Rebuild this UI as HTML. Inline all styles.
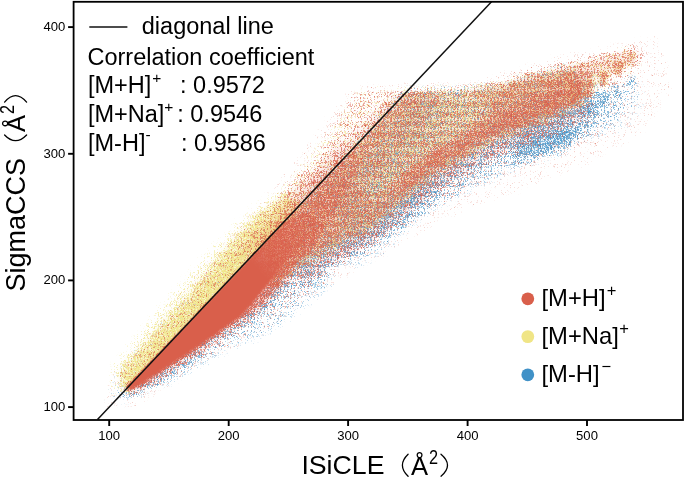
<!DOCTYPE html>
<html><head><meta charset="utf-8"><title>chart</title>
<style>
html,body{margin:0;padding:0;background:#fff}
svg{display:block;opacity:0.999}
text{font-family:"Liberation Sans",sans-serif;fill:#000}
</style></head>
<body>
<svg width="685" height="478" viewBox="0 0 685 478">
<rect width="685" height="478" fill="#fff"/>
<defs>
<clipPath id="cp"><rect x="74.5" y="2.5" width="607.8" height="416.2"/></clipPath>
<filter id="fB" x="74" y="2" width="609" height="418" filterUnits="userSpaceOnUse" color-interpolation-filters="sRGB"><feTurbulence type="fractalNoise" baseFrequency="2.3 1.9" numOctaves="2" seed="3"/><feComponentTransfer result="u"><feFuncR type="table" tableValues="1.0000 1.0000 0.9999 0.9998 0.9996 0.9991 0.9982 0.9966 0.9938 0.9890 0.9814 0.9696 0.9522 0.9276 0.8944 0.8512 0.7977 0.7340 0.6615 0.5825 0.5000 0.4175 0.3385 0.2660 0.2023 0.1488 0.1056 0.0724 0.0478 0.0304 0.0186 0.0110 0.0062 0.0034 0.0018 0.0009 0.0004 0.0002 0.0001 0.0000 0.0000"/><feFuncG type="table" tableValues="1.0000 1.0000 0.9999 0.9998 0.9996 0.9991 0.9982 0.9966 0.9938 0.9890 0.9814 0.9696 0.9522 0.9276 0.8944 0.8512 0.7977 0.7340 0.6615 0.5825 0.5000 0.4175 0.3385 0.2660 0.2023 0.1488 0.1056 0.0724 0.0478 0.0304 0.0186 0.0110 0.0062 0.0034 0.0018 0.0009 0.0004 0.0002 0.0001 0.0000 0.0000"/><feFuncB type="table" tableValues="1.0000 1.0000 0.9999 0.9998 0.9996 0.9991 0.9982 0.9966 0.9938 0.9890 0.9814 0.9696 0.9522 0.9276 0.8944 0.8512 0.7977 0.7340 0.6615 0.5825 0.5000 0.4175 0.3385 0.2660 0.2023 0.1488 0.1056 0.0724 0.0478 0.0304 0.0186 0.0110 0.0062 0.0034 0.0018 0.0009 0.0004 0.0002 0.0001 0.0000 0.0000"/><feFuncA type="linear" slope="0" intercept="1"/></feComponentTransfer><feComponentTransfer in="SourceGraphic" result="mm"><feFuncR type="table" tableValues="0.000 0.034 0.048 0.059 0.069 0.077 0.084 0.092 0.099 0.107 0.114 0.122 0.129 0.137 0.145 0.153 0.161 0.169 0.177 0.185 0.194 0.202 0.210 0.219 0.228 0.235 0.242 0.249 0.256 0.263 0.271 0.278 0.285 0.293 0.301 0.308 0.316 0.324 0.332 0.340 0.348 0.356 0.364 0.373 0.381 0.390 0.399 0.407 0.416 0.425 0.434 0.444 0.453 0.462 0.472 0.482 0.492 0.502 0.512 0.522 0.532 0.543 0.554 0.565 0.576 0.587 0.599 0.610 0.622 0.634 0.647 0.659 0.672 0.685 0.698 0.712 0.726 0.740 0.754 0.769 0.784"/><feFuncG type="table" tableValues="0.000 0.034 0.048 0.059 0.069 0.077 0.084 0.092 0.099 0.107 0.114 0.122 0.129 0.137 0.145 0.153 0.161 0.169 0.177 0.185 0.194 0.202 0.210 0.219 0.228 0.235 0.242 0.249 0.256 0.263 0.271 0.278 0.285 0.293 0.301 0.308 0.316 0.324 0.332 0.340 0.348 0.356 0.364 0.373 0.381 0.390 0.399 0.407 0.416 0.425 0.434 0.444 0.453 0.462 0.472 0.482 0.492 0.502 0.512 0.522 0.532 0.543 0.554 0.565 0.576 0.587 0.599 0.610 0.622 0.634 0.647 0.659 0.672 0.685 0.698 0.712 0.726 0.740 0.754 0.769 0.784"/><feFuncB type="table" tableValues="0.000 0.034 0.048 0.059 0.069 0.077 0.084 0.092 0.099 0.107 0.114 0.122 0.129 0.137 0.145 0.153 0.161 0.169 0.177 0.185 0.194 0.202 0.210 0.219 0.228 0.235 0.242 0.249 0.256 0.263 0.271 0.278 0.285 0.293 0.301 0.308 0.316 0.324 0.332 0.340 0.348 0.356 0.364 0.373 0.381 0.390 0.399 0.407 0.416 0.425 0.434 0.444 0.453 0.462 0.472 0.482 0.492 0.502 0.512 0.522 0.532 0.543 0.554 0.565 0.576 0.587 0.599 0.610 0.622 0.634 0.647 0.659 0.672 0.685 0.698 0.712 0.726 0.740 0.754 0.769 0.784"/></feComponentTransfer><feComposite in="mm" in2="u" operator="arithmetic" k1="0" k2="1" k3="1" k4="-1"/><feColorMatrix type="matrix" values="12 0 0 0 0 0 12 0 0 0 0 0 12 0 0 0 0 0 0 1"/><feColorMatrix type="matrix" values="0 0 0 0 0 0 0 0 0 0 0 0 0 0 0 .3334 .3334 .3334 0 0"/><feComponentTransfer result="t"><feFuncA type="table" tableValues="0 0.6 0.85 1"/></feComponentTransfer><feFlood flood-color="#4091c7"/><feComposite in2="t" operator="in"/><feGaussianBlur stdDeviation="0.65"/></filter>
<filter id="fY" x="74" y="2" width="609" height="418" filterUnits="userSpaceOnUse" color-interpolation-filters="sRGB"><feTurbulence type="fractalNoise" baseFrequency="2.3 1.9" numOctaves="2" seed="11"/><feComponentTransfer result="u"><feFuncR type="table" tableValues="1.0000 1.0000 0.9999 0.9998 0.9996 0.9991 0.9982 0.9966 0.9938 0.9890 0.9814 0.9696 0.9522 0.9276 0.8944 0.8512 0.7977 0.7340 0.6615 0.5825 0.5000 0.4175 0.3385 0.2660 0.2023 0.1488 0.1056 0.0724 0.0478 0.0304 0.0186 0.0110 0.0062 0.0034 0.0018 0.0009 0.0004 0.0002 0.0001 0.0000 0.0000"/><feFuncG type="table" tableValues="1.0000 1.0000 0.9999 0.9998 0.9996 0.9991 0.9982 0.9966 0.9938 0.9890 0.9814 0.9696 0.9522 0.9276 0.8944 0.8512 0.7977 0.7340 0.6615 0.5825 0.5000 0.4175 0.3385 0.2660 0.2023 0.1488 0.1056 0.0724 0.0478 0.0304 0.0186 0.0110 0.0062 0.0034 0.0018 0.0009 0.0004 0.0002 0.0001 0.0000 0.0000"/><feFuncB type="table" tableValues="1.0000 1.0000 0.9999 0.9998 0.9996 0.9991 0.9982 0.9966 0.9938 0.9890 0.9814 0.9696 0.9522 0.9276 0.8944 0.8512 0.7977 0.7340 0.6615 0.5825 0.5000 0.4175 0.3385 0.2660 0.2023 0.1488 0.1056 0.0724 0.0478 0.0304 0.0186 0.0110 0.0062 0.0034 0.0018 0.0009 0.0004 0.0002 0.0001 0.0000 0.0000"/><feFuncA type="linear" slope="0" intercept="1"/></feComponentTransfer><feComponentTransfer in="SourceGraphic" result="mm"><feFuncR type="table" tableValues="0.000 0.034 0.048 0.059 0.069 0.077 0.084 0.092 0.099 0.104 0.109 0.114 0.119 0.124 0.129 0.134 0.139 0.144 0.149 0.154 0.159 0.164 0.170 0.175 0.180 0.186 0.191 0.196 0.202 0.207 0.213 0.219 0.224 0.230 0.235 0.241 0.247 0.253 0.259 0.265 0.271 0.277 0.283 0.289 0.295 0.301 0.307 0.314 0.320 0.326 0.333 0.339 0.346 0.353 0.359 0.366 0.373 0.380 0.387 0.394 0.401 0.408 0.415 0.422 0.430 0.437 0.445 0.452 0.460 0.468 0.476 0.483 0.492 0.500 0.508 0.516 0.525 0.533 0.542 0.550 0.559"/><feFuncG type="table" tableValues="0.000 0.034 0.048 0.059 0.069 0.077 0.084 0.092 0.099 0.104 0.109 0.114 0.119 0.124 0.129 0.134 0.139 0.144 0.149 0.154 0.159 0.164 0.170 0.175 0.180 0.186 0.191 0.196 0.202 0.207 0.213 0.219 0.224 0.230 0.235 0.241 0.247 0.253 0.259 0.265 0.271 0.277 0.283 0.289 0.295 0.301 0.307 0.314 0.320 0.326 0.333 0.339 0.346 0.353 0.359 0.366 0.373 0.380 0.387 0.394 0.401 0.408 0.415 0.422 0.430 0.437 0.445 0.452 0.460 0.468 0.476 0.483 0.492 0.500 0.508 0.516 0.525 0.533 0.542 0.550 0.559"/><feFuncB type="table" tableValues="0.000 0.034 0.048 0.059 0.069 0.077 0.084 0.092 0.099 0.104 0.109 0.114 0.119 0.124 0.129 0.134 0.139 0.144 0.149 0.154 0.159 0.164 0.170 0.175 0.180 0.186 0.191 0.196 0.202 0.207 0.213 0.219 0.224 0.230 0.235 0.241 0.247 0.253 0.259 0.265 0.271 0.277 0.283 0.289 0.295 0.301 0.307 0.314 0.320 0.326 0.333 0.339 0.346 0.353 0.359 0.366 0.373 0.380 0.387 0.394 0.401 0.408 0.415 0.422 0.430 0.437 0.445 0.452 0.460 0.468 0.476 0.483 0.492 0.500 0.508 0.516 0.525 0.533 0.542 0.550 0.559"/></feComponentTransfer><feComposite in="mm" in2="u" operator="arithmetic" k1="0" k2="1" k3="1" k4="-1"/><feColorMatrix type="matrix" values="12 0 0 0 0 0 12 0 0 0 0 0 12 0 0 0 0 0 0 1"/><feColorMatrix type="matrix" values="0 0 0 0 0 0 0 0 0 0 0 0 0 0 0 .3334 .3334 .3334 0 0"/><feComponentTransfer result="t"><feFuncA type="table" tableValues="0 0.6 0.85 1"/></feComponentTransfer><feFlood flood-color="#f0e586"/><feComposite in2="t" operator="in"/><feGaussianBlur stdDeviation="0.65"/></filter>
<filter id="fR" x="74" y="2" width="609" height="418" filterUnits="userSpaceOnUse" color-interpolation-filters="sRGB"><feTurbulence type="fractalNoise" baseFrequency="2.3 1.9" numOctaves="2" seed="23"/><feComponentTransfer result="u"><feFuncR type="table" tableValues="1.0000 1.0000 0.9999 0.9998 0.9996 0.9991 0.9982 0.9966 0.9938 0.9890 0.9814 0.9696 0.9522 0.9276 0.8944 0.8512 0.7977 0.7340 0.6615 0.5825 0.5000 0.4175 0.3385 0.2660 0.2023 0.1488 0.1056 0.0724 0.0478 0.0304 0.0186 0.0110 0.0062 0.0034 0.0018 0.0009 0.0004 0.0002 0.0001 0.0000 0.0000"/><feFuncG type="table" tableValues="1.0000 1.0000 0.9999 0.9998 0.9996 0.9991 0.9982 0.9966 0.9938 0.9890 0.9814 0.9696 0.9522 0.9276 0.8944 0.8512 0.7977 0.7340 0.6615 0.5825 0.5000 0.4175 0.3385 0.2660 0.2023 0.1488 0.1056 0.0724 0.0478 0.0304 0.0186 0.0110 0.0062 0.0034 0.0018 0.0009 0.0004 0.0002 0.0001 0.0000 0.0000"/><feFuncB type="table" tableValues="1.0000 1.0000 0.9999 0.9998 0.9996 0.9991 0.9982 0.9966 0.9938 0.9890 0.9814 0.9696 0.9522 0.9276 0.8944 0.8512 0.7977 0.7340 0.6615 0.5825 0.5000 0.4175 0.3385 0.2660 0.2023 0.1488 0.1056 0.0724 0.0478 0.0304 0.0186 0.0110 0.0062 0.0034 0.0018 0.0009 0.0004 0.0002 0.0001 0.0000 0.0000"/><feFuncA type="linear" slope="0" intercept="1"/></feComponentTransfer><feComponentTransfer in="SourceGraphic" result="mm"><feFuncR type="table" tableValues="0.000 0.034 0.048 0.059 0.069 0.077 0.084 0.092 0.099 0.104 0.109 0.114 0.119 0.124 0.129 0.134 0.139 0.144 0.149 0.154 0.159 0.164 0.170 0.175 0.180 0.186 0.191 0.196 0.202 0.207 0.213 0.219 0.224 0.230 0.235 0.241 0.247 0.253 0.259 0.265 0.271 0.277 0.283 0.289 0.295 0.301 0.307 0.314 0.320 0.326 0.333 0.339 0.346 0.353 0.359 0.366 0.373 0.380 0.387 0.394 0.401 0.408 0.415 0.422 0.430 0.437 0.445 0.452 0.460 0.468 0.476 0.483 0.492 0.500 0.508 0.516 0.525 0.533 0.542 0.550 0.559"/><feFuncG type="table" tableValues="0.000 0.034 0.048 0.059 0.069 0.077 0.084 0.092 0.099 0.104 0.109 0.114 0.119 0.124 0.129 0.134 0.139 0.144 0.149 0.154 0.159 0.164 0.170 0.175 0.180 0.186 0.191 0.196 0.202 0.207 0.213 0.219 0.224 0.230 0.235 0.241 0.247 0.253 0.259 0.265 0.271 0.277 0.283 0.289 0.295 0.301 0.307 0.314 0.320 0.326 0.333 0.339 0.346 0.353 0.359 0.366 0.373 0.380 0.387 0.394 0.401 0.408 0.415 0.422 0.430 0.437 0.445 0.452 0.460 0.468 0.476 0.483 0.492 0.500 0.508 0.516 0.525 0.533 0.542 0.550 0.559"/><feFuncB type="table" tableValues="0.000 0.034 0.048 0.059 0.069 0.077 0.084 0.092 0.099 0.104 0.109 0.114 0.119 0.124 0.129 0.134 0.139 0.144 0.149 0.154 0.159 0.164 0.170 0.175 0.180 0.186 0.191 0.196 0.202 0.207 0.213 0.219 0.224 0.230 0.235 0.241 0.247 0.253 0.259 0.265 0.271 0.277 0.283 0.289 0.295 0.301 0.307 0.314 0.320 0.326 0.333 0.339 0.346 0.353 0.359 0.366 0.373 0.380 0.387 0.394 0.401 0.408 0.415 0.422 0.430 0.437 0.445 0.452 0.460 0.468 0.476 0.483 0.492 0.500 0.508 0.516 0.525 0.533 0.542 0.550 0.559"/></feComponentTransfer><feComposite in="mm" in2="u" operator="arithmetic" k1="0" k2="1" k3="1" k4="-1"/><feColorMatrix type="matrix" values="12 0 0 0 0 0 12 0 0 0 0 0 12 0 0 0 0 0 0 1"/><feColorMatrix type="matrix" values="0 0 0 0 0 0 0 0 0 0 0 0 0 0 0 .3334 .3334 .3334 0 0"/><feComponentTransfer result="t"><feFuncA type="table" tableValues="0 0.6 0.85 1"/></feComponentTransfer><feFlood flood-color="#d95f4b"/><feComposite in2="t" operator="in"/><feGaussianBlur stdDeviation="0.65"/></filter>
<filter id="uB" x="74" y="2" width="609" height="418" filterUnits="userSpaceOnUse" color-interpolation-filters="sRGB"><feComponentTransfer><feFuncR type="table" tableValues="0.000 0.000 0.000 0.000 0.000 0.000 0.000 0.000 0.000 0.000 0.000 0.000 0.000 0.009 0.017 0.026 0.035 0.044 0.053 0.061 0.070 0.079 0.088 0.096 0.105 0.114 0.122 0.131 0.140 0.149 0.158 0.166 0.175 0.184 0.193 0.201 0.210 0.219 0.227 0.236 0.245"/></feComponentTransfer><feColorMatrix type="matrix" values="0 0 0 0 0.251 0 0 0 0 0.569 0 0 0 0 0.780 1 0 0 0 0"/></filter>
<filter id="uY" x="74" y="2" width="609" height="418" filterUnits="userSpaceOnUse" color-interpolation-filters="sRGB"><feComponentTransfer><feFuncR type="table" tableValues="0.000 0.000 0.000 0.000 0.000 0.012 0.025 0.037 0.050 0.062 0.075 0.088 0.100 0.113 0.125 0.138 0.150 0.162 0.175 0.188 0.200 0.213 0.225 0.237 0.250 0.263 0.275 0.288 0.300 0.312 0.325 0.338 0.350 0.362 0.375 0.388 0.400 0.413 0.425 0.438 0.450"/></feComponentTransfer><feColorMatrix type="matrix" values="0 0 0 0 0.941 0 0 0 0 0.898 0 0 0 0 0.525 1 0 0 0 0"/></filter>
<filter id="uR" x="74" y="2" width="609" height="418" filterUnits="userSpaceOnUse" color-interpolation-filters="sRGB"><feComponentTransfer><feFuncR type="table" tableValues="0.000 0.000 0.000 0.000 0.000 0.014 0.027 0.041 0.055 0.069 0.083 0.096 0.110 0.124 0.137 0.151 0.165 0.179 0.193 0.206 0.220 0.234 0.248 0.261 0.275 0.289 0.303 0.316 0.330 0.344 0.358 0.371 0.385 0.399 0.413 0.426 0.440 0.454 0.468 0.481 0.495"/></feComponentTransfer><feColorMatrix type="matrix" values="0 0 0 0 0.851 0 0 0 0 0.373 0 0 0 0 0.294 1 0 0 0 0"/></filter>
<filter id="b1" x="-20%" y="-20%" width="140%" height="140%" filterUnits="objectBoundingBox" color-interpolation-filters="sRGB"><feGaussianBlur stdDeviation="1"/></filter>
<filter id="b1_5" x="-20%" y="-20%" width="140%" height="140%" filterUnits="objectBoundingBox" color-interpolation-filters="sRGB"><feGaussianBlur stdDeviation="1.5"/></filter>
<filter id="b2" x="-20%" y="-20%" width="140%" height="140%" filterUnits="objectBoundingBox" color-interpolation-filters="sRGB"><feGaussianBlur stdDeviation="2"/></filter>
<filter id="b3" x="-20%" y="-20%" width="140%" height="140%" filterUnits="objectBoundingBox" color-interpolation-filters="sRGB"><feGaussianBlur stdDeviation="3"/></filter>
<filter id="b4" x="-20%" y="-20%" width="140%" height="140%" filterUnits="objectBoundingBox" color-interpolation-filters="sRGB"><feGaussianBlur stdDeviation="4"/></filter>
<filter id="b5" x="-20%" y="-20%" width="140%" height="140%" filterUnits="objectBoundingBox" color-interpolation-filters="sRGB"><feGaussianBlur stdDeviation="5"/></filter>
<filter id="b6" x="-20%" y="-20%" width="140%" height="140%" filterUnits="objectBoundingBox" color-interpolation-filters="sRGB"><feGaussianBlur stdDeviation="6"/></filter>
<filter id="b8" x="-20%" y="-20%" width="140%" height="140%" filterUnits="objectBoundingBox" color-interpolation-filters="sRGB"><feGaussianBlur stdDeviation="8"/></filter>
<filter id="b10" x="-20%" y="-20%" width="140%" height="140%" filterUnits="objectBoundingBox" color-interpolation-filters="sRGB"><feGaussianBlur stdDeviation="10"/></filter>
</defs>
<g clip-path="url(#cp)">
<defs><g id="mB">
<rect x="60" y="-10" width="640" height="445" fill="#000"/>
<polygon points="120.0,398.0 125.0,386.0 138.3,378.5 163.4,362.3 188.5,346.0 213.6,328.4 238.8,310.8 260.0,295.5 294.0,256.0 301.0,269.0 267.0,308.5 245.8,323.8 220.6,341.4 195.5,359.0 170.4,375.3 145.3,391.5 134.0,396.0" fill="#fff" fill-opacity="0.16" filter="url(#b2)"/>
<polygon points="106.0,402.0 116.0,374.0 178.0,306.0 240.0,246.0 262.0,262.0 280.0,300.0 200.0,362.0 135.0,400.0" fill="#fff" fill-opacity="0.04" filter="url(#b4)"/>
<polygon points="125.0,388.0 163.4,362.3 188.5,346.0 213.6,328.4 238.8,310.8 260.0,295.5 294.0,256.0 335.0,280.0 272.0,330.0 215.6,354.0 165.0,384.0" fill="#fff" fill-opacity="0.1" filter="url(#b4)"/>
<polygon points="300.0,205.2 405.0,93.0 470.0,91.0 500.0,87.0 538.0,77.0 570.0,68.0 600.0,75.0 605.0,110.0 568.0,150.0 540.0,157.0 509.0,170.0 470.0,188.0 427.0,210.0 400.0,226.0 350.0,257.0 300.0,286.0 262.0,306.0" fill="#fff" fill-opacity="0.1" filter="url(#b5)"/>
<polygon points="300.0,205.2 405.0,93.0 470.0,91.0 500.0,87.0 538.0,77.0 570.0,68.0 600.0,100.0 585.0,97.0 560.0,109.0 530.0,123.0 494.0,137.0 462.0,155.0 432.0,173.0 403.0,196.0 374.0,222.0 343.0,239.0 320.0,251.0 296.0,264.0" fill="#fff" fill-opacity="0.2" filter="url(#b5)"/>
<polygon points="296.0,256.0 320.0,243.0 343.0,231.0 374.0,214.0 403.0,188.0 432.0,165.0 462.0,147.0 494.0,129.0 530.0,115.0 560.0,101.0 585.0,89.0 589.0,111.0 564.0,123.0 534.0,137.0 498.0,151.0 466.0,169.0 436.0,187.0 407.0,210.0 378.0,236.0 347.0,253.0 324.0,265.0 300.0,278.0" fill="#fff" fill-opacity="0.2" filter="url(#b3)"/>
<polygon points="343.0,239.0 374.0,222.0 403.0,196.0 432.0,173.0 462.0,155.0 494.0,137.0 530.0,123.0 538.0,151.0 502.0,165.0 470.0,183.0 440.0,201.0 411.0,224.0 382.0,250.0 351.0,267.0" fill="#fff" fill-opacity="0.1" filter="url(#b5)"/>
<polygon points="512.0,130.0 530.0,121.0 560.0,107.0 580.0,98.0 592.0,100.0 598.0,112.0 588.0,128.0 570.0,144.0 540.0,156.0 512.0,166.0" fill="#fff" fill-opacity="0.22" filter="url(#b4)"/>
<ellipse cx="547" cy="141" rx="32" ry="9" transform="rotate(-18 547 141)" fill="#fff" fill-opacity="0.45" filter="url(#b3)"/>
<polygon points="300.0,262.0 345.0,225.0 400.0,188.0 430.0,172.0 442.0,192.0 400.0,225.0 350.0,255.0 310.0,282.0" fill="#fff" fill-opacity="0.16" filter="url(#b5)"/>
<polygon points="330.0,215.0 348.0,175.0 392.0,130.0 420.0,98.0 450.0,98.0 425.0,140.0 385.0,185.0 360.0,225.0" fill="#fff" fill-opacity="0.22" filter="url(#b6)"/>
<ellipse cx="590" cy="108" rx="5" ry="6" transform="rotate(12 590 108)" fill="#fff" fill-opacity="0.33" filter="url(#b1_5)"/>
<ellipse cx="603" cy="99" rx="5" ry="5" transform="rotate(12 603 99)" fill="#fff" fill-opacity="0.385" filter="url(#b1_5)"/>
<ellipse cx="616" cy="90" rx="3" ry="6" transform="rotate(12 616 90)" fill="#fff" fill-opacity="0.385" filter="url(#b1_5)"/>
<ellipse cx="632" cy="81.5" rx="3" ry="4.5" transform="rotate(12 632 81.5)" fill="#fff" fill-opacity="0.33" filter="url(#b1_5)"/>
<polygon points="575.0,95.0 630.0,75.0 645.0,100.0 630.0,125.0 600.0,138.0" fill="#fff" fill-opacity="0.035" filter="url(#b5)"/>
<polygon points="580.0,98.0 600.0,92.0 625.0,80.0 640.0,84.0 630.0,105.0 610.0,125.0 585.0,140.0 572.0,130.0" fill="#fff" fill-opacity="0.1" filter="url(#b4)"/>
</g></defs><use href="#mB" filter="url(#uB)"/><use href="#mB" filter="url(#fB)"/>
<defs><g id="mY">
<rect x="60" y="-10" width="640" height="445" fill="#000"/>
<polygon points="124.0,390.0 121.0,379.0 125.5,365.8 148.8,340.2 173.9,312.0 186.5,299.0 228.0,247.0 258.0,216.0 285.0,196.0 300.0,207.2 128.0,389.6" fill="#fff" fill-opacity="0.8" filter="url(#b3)"/>
<polygon points="126.0,389.0 129.0,374.0 154.0,347.0 179.0,320.0 230.0,261.0 262.0,229.0 285.0,211.0 292.0,215.7 128.0,389.6" fill="#fff" fill-opacity="1" filter="url(#b2)"/>
<polygon points="116.0,384.0 112.0,370.0 160.0,310.0 215.0,248.0 250.0,212.0 300.0,180.0 310.0,194.6 128.0,387.6" fill="#fff" fill-opacity="0.12" filter="url(#b4)"/>
<polygon points="110.0,394.0 114.0,368.0 172.0,298.0 232.0,230.0 262.0,214.0 200.0,320.0 128.0,394.0" fill="#fff" fill-opacity="0.05" filter="url(#b3)"/>
<polygon points="300.0,205.2 405.0,93.0 470.0,91.0 500.0,87.0 538.0,77.0 575.0,70.0 588.0,100.0 560.0,113.0 530.0,127.0 494.0,141.0 462.0,159.0 432.0,177.0 403.0,200.0 374.0,226.0 343.0,243.0 320.0,255.0 296.0,268.0 270.0,290.0 262.0,245.0" fill="#fff" fill-opacity="0.44" filter="url(#b4)"/>
<polygon points="262.0,216.0 300.0,170.0 340.0,120.0 358.0,92.0 408.0,92.0 300.0,205.2" fill="#fff" fill-opacity="0.1" filter="url(#b4)"/>
<ellipse cx="574" cy="93" rx="7.5" ry="10.5" transform="rotate(12 574 93)" fill="#fff" fill-opacity="0.5" filter="url(#b1_5)"/>
<ellipse cx="588.5" cy="86" rx="5.0" ry="10.5" transform="rotate(12 588.5 86)" fill="#fff" fill-opacity="0.5" filter="url(#b1_5)"/>
<ellipse cx="603" cy="77.5" rx="4.7" ry="8.0" transform="rotate(12 603 77.5)" fill="#fff" fill-opacity="0.45" filter="url(#b1_5)"/>
<ellipse cx="618.5" cy="67" rx="5.0" ry="7.5" transform="rotate(12 618.5 67)" fill="#fff" fill-opacity="0.4" filter="url(#b1_5)"/>
<ellipse cx="631.5" cy="57" rx="4.0" ry="5.5" transform="rotate(12 631.5 57)" fill="#fff" fill-opacity="0.3" filter="url(#b1_5)"/>
<polygon points="470.0,92.0 520.0,78.0 560.0,67.0 600.0,58.0 630.0,50.0 638.0,62.0 605.0,78.0 560.0,86.0 520.0,96.0 480.0,102.0" fill="#fff" fill-opacity="0.17" filter="url(#b3)"/>
<polygon points="565.0,70.0 600.0,60.0 635.0,46.0 642.0,60.0 618.0,84.0 592.0,98.0 575.0,92.0" fill="#fff" fill-opacity="0.05" filter="url(#b4)"/>
</g></defs><use href="#mY" filter="url(#uY)"/><use href="#mY" filter="url(#fY)"/>
<defs><g id="mR">
<rect x="60" y="-10" width="640" height="445" fill="#000"/>
<polygon points="102.0,406.0 110.0,378.0 168.0,308.0 230.0,236.0 300.0,156.0 345.0,96.0 360.0,86.0 480.0,80.0 560.0,56.0 660.0,36.0 672.0,90.0 640.0,134.0 590.0,162.0 515.0,192.0 455.0,214.0 405.0,242.0 355.0,271.0 305.0,300.0 262.0,316.0 200.0,366.0 135.0,406.0" fill="#fff" fill-opacity="0.022" filter="url(#b3)"/>
<polygon points="122.0,392.0 121.0,379.0 125.5,365.8 148.8,340.2 173.9,312.0 186.5,299.0 228.0,247.0 258.0,216.0 300.0,172.0 330.0,173.4 128.0,387.6" fill="#fff" fill-opacity="0.07" filter="url(#b2)"/>
<polygon points="230.0,262.0 262.0,226.0 300.0,186.0 340.0,140.0 352.0,150.0 255.0,252.9" fill="#fff" fill-opacity="0.15" filter="url(#b4)"/>
<polygon points="236.0,256.0 312.0,166.0 356.0,92.0 408.0,92.0 300.0,205.2 262.0,245.5" fill="#fff" fill-opacity="0.1" filter="url(#b4)"/>
<polygon points="255.0,250.9 300.0,193.2 340.0,144.8 385.0,103.0 406.0,92.0 416.0,92.0 300.0,211.2 262.0,249.5" fill="#fff" fill-opacity="0.12" filter="url(#b3)"/>
<polygon points="262.0,246.0 300.0,205.2 405.0,93.0 470.0,91.0 500.0,87.0 538.0,77.0 575.0,72.0 590.0,100.0 585.0,97.0 560.0,109.0 530.0,123.0 494.0,137.0 462.0,155.0 432.0,173.0 403.0,196.0 374.0,222.0 343.0,239.0 320.0,251.0 296.0,264.0 270.0,296.0" fill="#fff" fill-opacity="0.33" filter="url(#b3)"/>
<polygon points="440.0,90.0 470.0,83.0 538.0,66.0 600.0,54.0 640.0,42.0 645.0,58.0 600.0,70.0 538.0,80.0 470.0,93.0" fill="#fff" fill-opacity="0.04" filter="url(#b3)"/>
<polygon points="335.0,212.0 350.0,175.0 392.0,132.0 420.0,100.0 446.0,100.0 422.0,140.0 385.0,182.0 362.0,220.0" fill="#000" fill-opacity="0.1" filter="url(#b6)"/>
<polygon points="440.0,92.0 500.0,86.0 560.0,72.0 590.0,66.0 585.0,80.0 530.0,96.0 494.0,108.0 462.0,124.0 440.0,136.0" fill="#000" fill-opacity="0.18" filter="url(#b5)"/>
<polygon points="296.0,262.0 320.0,249.0 343.0,237.0 374.0,220.0 403.0,194.0 432.0,171.0 462.0,153.0 494.0,135.0 530.0,121.0 560.0,107.0 585.0,95.0 589.0,115.0 564.0,127.0 534.0,141.0 498.0,155.0 466.0,173.0 436.0,191.0 407.0,214.0 378.0,240.0 347.0,257.0 324.0,269.0 300.0,282.0" fill="#fff" fill-opacity="0.25" filter="url(#b4)"/>
<polygon points="296.0,262.0 320.0,249.0 343.0,237.0 374.0,220.0 403.0,194.0 432.0,171.0 462.0,153.0 494.0,135.0 530.0,121.0 560.0,107.0 585.0,95.0 612.0,134.0 568.0,150.0 540.0,157.0 509.0,170.0 470.0,188.0 427.0,210.0 400.0,226.0 350.0,257.0 300.0,286.0 262.0,306.0" fill="#fff" fill-opacity="0.035" filter="url(#b4)"/>
<polygon points="585.0,70.0 640.0,50.0 645.0,85.0 620.0,115.0 595.0,125.0" fill="#fff" fill-opacity="0.02" filter="url(#b5)"/>
<polygon points="565.0,72.0 600.0,62.0 635.0,48.0 642.0,62.0 618.0,86.0 592.0,100.0 575.0,96.0" fill="#fff" fill-opacity="0.035" filter="url(#b4)"/>
<ellipse cx="574" cy="95" rx="6" ry="10" transform="rotate(12 574 95)" fill="#fff" fill-opacity="0.475" filter="url(#b1_5)"/>
<ellipse cx="588.5" cy="88" rx="3.5" ry="10" transform="rotate(12 588.5 88)" fill="#fff" fill-opacity="0.475" filter="url(#b1_5)"/>
<ellipse cx="603" cy="79.5" rx="3.2" ry="7.5" transform="rotate(12 603 79.5)" fill="#fff" fill-opacity="0.427" filter="url(#b1_5)"/>
<ellipse cx="618.5" cy="69" rx="3.5" ry="7" transform="rotate(12 618.5 69)" fill="#fff" fill-opacity="0.38" filter="url(#b1_5)"/>
<ellipse cx="631.5" cy="59" rx="2.5" ry="5" transform="rotate(12 631.5 59)" fill="#fff" fill-opacity="0.285" filter="url(#b1_5)"/>
<polygon points="490.0,90.0 540.0,72.0 600.0,57.0 640.0,46.0 645.0,60.0 600.0,74.0 560.0,84.0 520.0,94.0" fill="#fff" fill-opacity="0.09" filter="url(#b3)"/>
<polygon points="488.0,100.0 520.0,88.0 560.0,77.0 588.0,70.0 592.0,92.0 560.0,109.0 530.0,123.0 494.0,137.0" fill="#fff" fill-opacity="0.3" filter="url(#b4)"/>
<polygon points="470.0,92.0 520.0,78.0 560.0,67.0 600.0,58.0 630.0,50.0 638.0,62.0 605.0,78.0 560.0,86.0 520.0,96.0 480.0,102.0" fill="#fff" fill-opacity="0.17" filter="url(#b3)"/>
<polygon points="300.0,213.2 343.0,177.6 374.0,200.0 403.0,174.0 432.0,151.0 462.0,133.0 494.0,115.0 530.0,101.0 560.0,87.0 585.0,75.0 585.0,97.0 560.0,109.0 530.0,123.0 494.0,137.0 462.0,155.0 432.0,173.0 403.0,196.0 374.0,222.0 343.0,239.0 320.0,251.0 296.0,264.0" fill="#fff" fill-opacity="0.28" filter="url(#b3)"/>
<polygon points="403.0,174.0 432.0,151.0 462.0,133.0 494.0,115.0 530.0,101.0 560.0,87.0 585.0,75.0 585.0,97.0 560.0,109.0 530.0,123.0 494.0,137.0 462.0,155.0 432.0,173.0 403.0,196.0" fill="#fff" fill-opacity="0.12" filter="url(#b3)"/>
<polygon points="403.0,179.0 432.0,156.0 462.0,138.0 494.0,120.0 530.0,106.0 560.0,92.0 560.0,104.0 530.0,118.0 494.0,132.0 462.0,150.0 432.0,168.0 403.0,191.0" fill="#fff" fill-opacity="0.28" filter="url(#b3)"/>
<polygon points="262.0,245.5 300.0,205.2 350.0,152.2 366.0,151.2 335.0,212.0 305.0,252.0 278.0,286.0" fill="#fff" fill-opacity="0.42" filter="url(#b5)"/>
<polygon points="262.0,245.5 300.0,205.2 405.0,93.0 444.0,93.0 420.0,125.0 385.0,170.0 345.0,215.0 300.0,262.0" fill="#fff" fill-opacity="0.17" filter="url(#b5)"/>
<polygon points="125.5,391.0 127.0,385.5 255.0,251.9 285.0,222.0 305.0,212.0 325.0,226.0 310.0,252.0 296.0,264.0 262.0,303.5 240.8,318.8 215.6,336.4 190.5,354.0 165.4,370.3 140.3,386.5 129.0,391.0" fill="#fff" fill-opacity="0.6" filter="url(#b2_5)"/>
<polygon points="125.0,386.0 138.3,378.5 163.4,362.3 188.5,346.0 213.6,328.4 238.8,310.8 260.0,295.5 294.0,256.0 299.0,267.5 265.0,307.0 243.8,322.3 218.6,339.9 193.5,357.5 168.4,373.8 143.3,390.0 132.0,394.5" fill="#fff" fill-opacity="0.3" filter="url(#b2)"/>
<polygon points="125.0,388.0 163.4,362.3 188.5,346.0 213.6,328.4 238.8,310.8 260.0,295.5 294.0,256.0 330.0,275.0 270.0,325.0 215.6,352.0 165.0,382.0" fill="#fff" fill-opacity="0.07" filter="url(#b4)"/>
</g></defs><use href="#mR" filter="url(#uR)"/><use href="#mR" filter="url(#fR)"/>
<defs><linearGradient id="cg" gradientUnits="userSpaceOnUse" x1="127" y1="388" x2="312" y2="214"><stop offset="0" stop-color="#d95f4b"/><stop offset="0.70" stop-color="#d95f4b"/><stop offset="1" stop-color="#d95f4b" stop-opacity="0"/></linearGradient></defs>
<polygon points="127.5,388.5 128.5,385.0 308.0,197.7 318.0,218.0 300.0,244.0 275.0,276.0 250.0,306.0 240.8,316.5 215.6,334.0 190.5,351.5 165.4,368.0 140.3,384.5 131.0,389.5" fill="url(#cg)" fill-opacity="1" filter="url(#b1)"/>
</g>
<line x1="97.5" y1="419.5" x2="491.5" y2="1.8" stroke="#111" stroke-width="1.5"/>
<rect x="73.6" y="1.8" width="609.4" height="418.2" fill="none" stroke="#000" stroke-width="1.8"/>
<g stroke="#000" stroke-width="1.9">
<line x1="68.1" y1="407.1" x2="73.6" y2="407.1"/>
<line x1="68.1" y1="280.4" x2="73.6" y2="280.4"/>
<line x1="68.1" y1="153.8" x2="73.6" y2="153.8"/>
<line x1="68.1" y1="27.1" x2="73.6" y2="27.1"/>
<line x1="109.2" y1="420.0" x2="109.2" y2="426.0"/>
<line x1="228.7" y1="420.0" x2="228.7" y2="426.0"/>
<line x1="348.1" y1="420.0" x2="348.1" y2="426.0"/>
<line x1="467.6" y1="420.0" x2="467.6" y2="426.0"/>
<line x1="587.0" y1="420.0" x2="587.0" y2="426.0"/>
</g>
<g font-size="13.1px">
<text x="65.4" y="410.8" text-anchor="end">100</text>
<text x="65.4" y="284.1" text-anchor="end">200</text>
<text x="65.4" y="157.5" text-anchor="end">300</text>
<text x="65.4" y="30.8" text-anchor="end">400</text>
<text x="109.2" y="440.4" text-anchor="middle">100</text>
<text x="228.7" y="440.4" text-anchor="middle">200</text>
<text x="348.1" y="440.4" text-anchor="middle">300</text>
<text x="467.6" y="440.4" text-anchor="middle">400</text>
<text x="587.0" y="440.4" text-anchor="middle">500</text>
</g>
<text x="301.4" y="474.3" font-size="26.7px">ISiCLE</text>
<text x="411.1" y="474.6" font-size="25.6px">Å</text>
<text transform="translate(429.1 463.8) scale(1 1.25)" font-size="16.3px">2</text>
<g fill="none" stroke="#000" stroke-width="1.3" stroke-linecap="round"><path d="M408.1 454.2Q396.7 465.1 408.1 476.2"/><path d="M441 454.2Q454 465.1 441 476.2"/></g>
<g transform="translate(25,0) rotate(-90)">
<text x="-291.6" y="0" font-size="27px">SigmaCCS</text>
<text x="-132" y="0" font-size="25.6px">Å</text>
<text transform="translate(-114 -10.8) scale(1 1.25)" font-size="16.3px">2</text>
<g fill="none" stroke="#000" stroke-width="1.3" stroke-linecap="round"><path d="M-135 -20.4Q-146.4 -9.5 -135 1.6"/><path d="M-102.1 -20.4Q-89.1 -9.5 -102.1 1.6"/></g>
</g>
<line x1="89.3" y1="27.1" x2="127.4" y2="27.1" stroke="#111" stroke-width="1.5"/>
<g font-size="23.5px">
<text x="141.8" y="34.3">diagonal line</text>
<text x="87.5" y="64.9">Correlation coefficient</text>
<text x="88" y="93.4">[M+H]</text><text x="152.3" y="83" font-size="15.5px">+</text><text x="180" y="93.4">: 0.9572</text>
<text x="88" y="122.4">[M+Na]</text><text x="164.2" y="112" font-size="15.5px">+</text><text x="177.3" y="122.4">: 0.9546</text>
<text x="88" y="151.4">[M-H]</text><text x="145.4" y="140" font-size="15.5px">-</text><text x="181" y="151.4">: 0.9586</text>
</g>
<circle cx="527.8" cy="298.8" r="6.4" fill="#d95f4b"/><circle cx="527.8" cy="336.6" r="6.4" fill="#f0e586"/><circle cx="527.8" cy="374.8" r="6.4" fill="#4091c7"/>
<g font-size="23.8px">
<text x="541.5" y="305.5">[M+H]</text><text x="606.7" y="296.2" font-size="16.5px">+</text>
<text x="541.5" y="343.5">[M+Na]</text><text x="619.2" y="334.2" font-size="16.5px">+</text>
<text x="541.5" y="381.5">[M-H]</text><text x="601.5" y="372.2" font-size="16.5px">−</text>
</g>
</svg>
</body></html>
